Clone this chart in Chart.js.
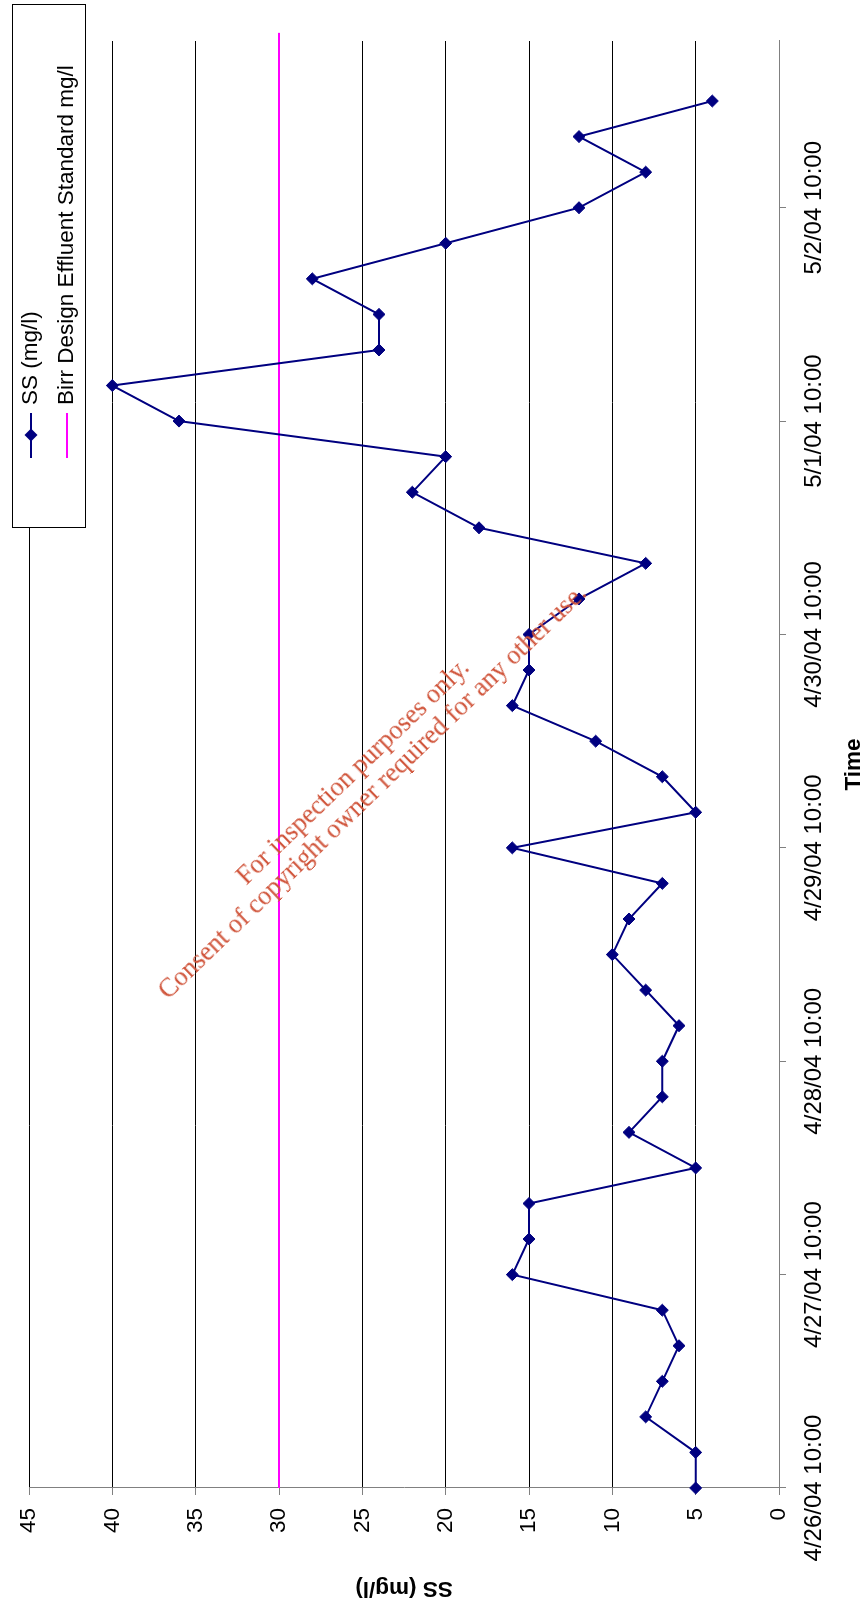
<!DOCTYPE html>
<html>
<head>
<meta charset="utf-8">
<script src="https://cdn.jsdelivr.net/npm/chart.js@4.4.1/dist/chart.umd.min.js"></script>
<style>
  html, body { margin: 0; padding: 0; background: #fff; overflow: hidden; }
  body { width: 868px; height: 1606px; position: relative; }
  /* chart is laid out landscape, then turned a quarter anticlockwise */
  #turn { position: absolute; left: 0; top: 0; width: 1606px; height: 868px;
          transform-origin: 0 0; transform: translate(0, 1606px) rotate(-90deg); }
  #watermark { position: absolute; left: 362px; top: 781px;
    transform: translate(-50%, -50%) rotate(-44deg);
    font: 26.5px 'Liberation Serif', 'Times New Roman', serif; line-height: 28px;
    color: #d0543a; text-align: center; white-space: nowrap; pointer-events: none; }
</style>
</head>
<body>
<div id="turn"><canvas id="ssChart" width="1606" height="868"></canvas></div>
<div id="watermark">For inspection purposes only.<br>Consent of copyright owner required for any other use.</div>
<script>
// Suspended solids readings, every 4 hours
const sampleTimes = [
  '4/26/04 10:00', '4/26/04 14:00', '4/26/04 18:00', '4/26/04 22:00',
  '4/27/04 02:00', '4/27/04 06:00', '4/27/04 10:00', '4/27/04 14:00', '4/27/04 18:00', '4/27/04 22:00',
  '4/28/04 02:00', '4/28/04 06:00', '4/28/04 10:00', '4/28/04 14:00', '4/28/04 18:00', '4/28/04 22:00',
  '4/29/04 02:00', '4/29/04 06:00', '4/29/04 10:00', '4/29/04 14:00', '4/29/04 18:00', '4/29/04 22:00',
  '4/30/04 02:00', '4/30/04 06:00', '4/30/04 10:00', '4/30/04 14:00', '4/30/04 18:00', '4/30/04 22:00',
  '5/1/04 02:00', '5/1/04 06:00', '5/1/04 10:00', '5/1/04 14:00', '5/1/04 18:00', '5/1/04 22:00',
  '5/2/04 02:00', '5/2/04 06:00', '5/2/04 10:00', '5/2/04 14:00', '5/2/04 18:00', '5/2/04 22:00'
];
const ssValues = [
  5, 5, 8, 7, 6, 7, 16, 15, 15, 5,
  9, 7, 7, 6, 8, 10, 9, 7, 16, 5,
  7, 11, 16, 15, 15, 12, 8, 18, 22, 20,
  36, 40, 24, 24, 28, 20, 12, 8, 12, 4
];

// Design effluent standard
const standardTimes = ['4/26/04 10:00', '5/3/04 05:40'];
const standardValues = [30, 30];

const timeTickLabels = [
  '4/26/04 10:00', '4/27/04 10:00', '4/28/04 10:00', '4/29/04 10:00',
  '4/30/04 10:00', '5/1/04 10:00', '5/2/04 10:00'
];
const timeAxisEnd = '5/3/04 04:45';
const valueMin = 0;
const valueMax = 45;
const valueStep = 5;

const seriesLabels = ['SS (mg/l)', 'Birr Design Effluent Standard mg/l'];
const seriesColors = ['#000080', '#FF00FF'];

const fontFamily = "'Liberation Sans', Arial, sans-serif";

// Convert "M/D/YY HH:MM" to hours since first sample
function toStamp(label) {
  const [datePart, timePart] = label.split(' ');
  const [m, d, y] = datePart.split('/').map(Number);
  const [h, min] = timePart.split(':').map(Number);
  return Date.UTC(2000 + y, m - 1, d, h, min);
}
const startStamp = toStamp(sampleTimes[0]);
const hoursFromStart = label => (toStamp(label) - startStamp) / 3600000;

const tickHours = timeTickLabels.map(hoursFromStart);

// Boxed legend in the top right corner, like the spreadsheet one
const boxLegend = {
  id: 'boxLegend',
  afterDraw(chart) {
    const ctx = chart.ctx;
    ctx.save();
    ctx.fillStyle = '#fff';
    ctx.fillRect(1078, 12, 523, 73);
    ctx.strokeStyle = '#000';
    ctx.lineWidth = 1;
    ctx.strokeRect(1078.5, 12.5, 523, 73);

    const rows = [31, 67];
    ctx.font = '22.5px ' + fontFamily;
    ctx.textBaseline = 'middle';
    rows.forEach((y, i) => {
      ctx.strokeStyle = seriesColors[i];
      ctx.lineWidth = 2;
      ctx.beginPath();
      ctx.moveTo(1148, y);
      ctx.lineTo(1193, y);
      ctx.stroke();
      if (i === 0) {
        ctx.fillStyle = seriesColors[0];
        ctx.beginPath();
        ctx.moveTo(1171 - 6.5, y);
        ctx.lineTo(1171, y - 6.5);
        ctx.lineTo(1171 + 6.5, y);
        ctx.lineTo(1171, y + 6.5);
        ctx.closePath();
        ctx.fill();
      }
      ctx.fillStyle = '#000';
      ctx.fillText(seriesLabels[i], 1201, y - 0.5);
    });
    ctx.restore();
  }
};

new Chart(document.getElementById('ssChart'), {
  type: 'line',
  data: {
    datasets: [
      {
        label: seriesLabels[0],
        data: sampleTimes.map((t, i) => ({ x: hoursFromStart(t), y: ssValues[i] })),
        borderColor: seriesColors[0],
        backgroundColor: seriesColors[0],
        borderWidth: 2,
        pointStyle: 'rectRot',
        pointRadius: 6,
        pointBorderWidth: 1,
        tension: 0,
        clip: false
      },
      {
        label: seriesLabels[1],
        data: standardTimes.map((t, i) => ({ x: hoursFromStart(t), y: standardValues[i] })),
        borderColor: seriesColors[1],
        borderWidth: 2,
        pointRadius: 0,
        tension: 0,
        clip: false
      }
    ]
  },
  options: {
    responsive: false,
    animation: false,
    devicePixelRatio: 1,
    layout: { padding: { top: 29, right: 41, left: 0, bottom: 0 } },
    plugins: { legend: { display: false }, tooltip: { enabled: false } },
    scales: {
      x: {
        type: 'linear',
        min: 0,
        max: hoursFromStart(timeAxisEnd),
        afterBuildTicks: scale => { scale.ticks = tickHours.map(v => ({ value: v })); },
        afterFit: scale => { scale.height = 89; },
        ticks: {
          autoSkip: false,
          maxRotation: 0,
          minRotation: 0,
          padding: 14,
          color: '#000',
          font: { family: fontFamily, size: 24 },
          callback: (value, index) => timeTickLabels[index]
        },
        grid: { drawOnChartArea: false, drawTicks: true, tickLength: 7, tickColor: '#808080' },
        border: { color: '#808080', width: 1 },
        title: {
          display: true,
          text: 'Time',
          color: '#000',
          font: { family: fontFamily, size: 22.5, weight: 'bold' },
          padding: { top: 0, bottom: 1 }
        }
      },
      y: {
        min: valueMin,
        max: valueMax,
        afterFit: scale => { scale.width = 118; },
        ticks: {
          stepSize: valueStep,
          padding: 13,
          color: '#000',
          font: { family: fontFamily, size: 22.5 }
        },
        grid: { color: '#000', lineWidth: 1, drawTicks: true, tickLength: 7, tickColor: '#808080' },
        border: { color: '#808080', width: 1 },
        title: {
          display: true,
          text: 'SS (mg/l)',
          color: '#000',
          font: { family: fontFamily, size: 22.5, weight: 'bold' },
          padding: { top: 4.5, bottom: 0 }
        }
      }
    }
  },
  plugins: [boxLegend]
});
</script>
</body>
</html>
